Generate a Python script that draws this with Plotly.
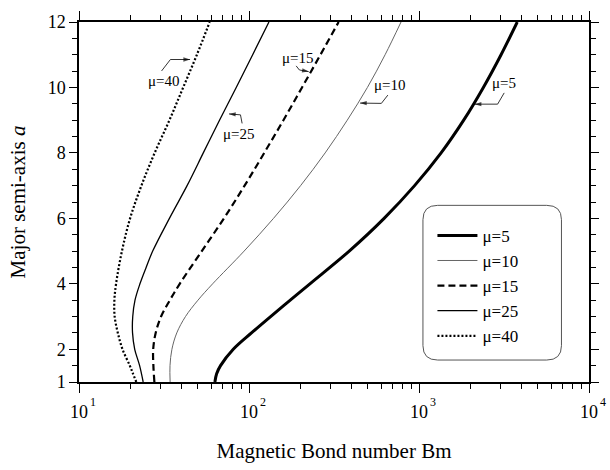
import math
import plotly.graph_objects as go

# ---- data ----
mu_names = ["μ=5", "μ=10", "μ=15", "μ=25", "μ=40"]

a_mu5 = [1, 1.25, 1.5, 2, 2.5, 3, 3.5, 4, 5, 6, 7, 8, 9, 10, 11, 12]
bm_mu5 = [63.0, 64.5, 68.0, 80.8, 103.4, 134.0, 174.9, 228.2, 388.6, 623.4, 941.9, 1349, 1832, 2391, 3039, 3784]

a_mu10 = [1, 1.5, 2, 2.5, 3, 3.5, 4, 5, 6, 7, 8, 9, 10, 11, 12]
bm_mu10 = [34.35, 34.3, 35.2, 37.6, 42.3, 50.1, 61.1, 93.6, 139.4, 201.1, 280.5, 378.4, 497.2, 631.8, 784]

a_mu15 = [1, 1.5, 2, 2.5, 3, 3.5, 4, 5, 6, 7, 8, 9, 10, 11, 12]
bm_mu15 = [27.76, 27.39, 27.32, 28.25, 30.39, 34.25, 39.13, 52.78, 71.21, 94.19, 122.9, 159.4, 205.1, 263.2, 336.7]

a_mu25 = [1, 1.5, 2, 2.5, 3, 3.5, 4, 4.5, 5, 6, 7, 8, 9, 10, 11, 12]
bm_mu25 = [23.85, 22.73, 21.27, 20.65, 20.71, 21.35, 22.83, 24.82, 27.14, 34.03, 43.23, 53.84, 67.07, 84.1, 105.1, 131.0]

a_mu40 = [1, 1.25, 1.5, 2, 2.5, 3, 3.5, 4, 5, 6, 7, 8, 9, 10, 11, 12]
bm_mu40 = [21.73, 20.79, 19.9, 18.03, 16.92, 16.21, 16.15, 16.52, 17.89, 19.98, 23.29, 27.87, 34.03, 41.01, 49.38, 58.72]

x_tickvals = [10, 100, 1000, 10000]
x_tick_base = ["10", "10", "10", "10"]
x_tick_exp = ["1", "2", "3", "4"]
y_tickvals = [1, 2, 4, 6, 8, 10, 12]

# in-plot labels (text centre) and their hooked pointer arrows (start, elbow, tip)
label_bm = [3170, 671, 194, 87.2, 31.8]
label_a = [10.13, 10.06, 10.90, 8.59, 10.21]
hook_bm = [[3171, 2900, 2127], [656, 600.6, 450], [189.4, 197.9, 224.4],
           [91.1, 89.1, 76.3], [30.6, 34.5, 45.0]]
hook_a = [[9.834, 9.49, 9.49], [9.767, 9.513, 9.522], [10.659, 10.534, 10.484],
          [8.901, 9.163, 9.192], [10.504, 10.854, 10.854]]

FONT = "Liberation Serif"

series = [
    (a_mu5, bm_mu5, dict(color="black", width=3)),
    (a_mu10, bm_mu10, dict(color="#666666", width=1)),
    (a_mu15, bm_mu15, dict(color="black", width=2.2, dash="7px,4px")),
    (a_mu25, bm_mu25, dict(color="black", width=1.3)),
    (a_mu40, bm_mu40, dict(color="black", width=2.2, dash="2px,2px")),
]

fig = go.Figure()
for name, (a_vals, bm_vals, line) in zip(mu_names, series):
    fig.add_trace(go.Scatter(x=bm_vals, y=a_vals, mode="lines", name=name,
                             line=dict(shape="spline", smoothing=1.0, **line)))

# pointer arrows
for hb, ha in zip(hook_bm, hook_a):
    fig.add_trace(go.Scatter(x=hb, y=ha, mode="lines+markers", showlegend=False,
                             hoverinfo="skip",
                             line=dict(color="black", width=0.8),
                             marker=dict(symbol="arrow", angleref="previous",
                                         size=[0, 0, 7], color="black",
                                         line=dict(width=0))))

annotations = []
for i, name in enumerate(mu_names):
    annotations.append(dict(x=math.log10(label_bm[i]), y=label_a[i], text=name,
                            showarrow=False, font=dict(family=FONT, size=15, color="#000000"),
                            xref="x", yref="y"))
# exponents of the x tick labels
for tv, ex in zip(x_tickvals, x_tick_exp):
    annotations.append(dict(x=math.log10(tv), y=0, xref="x", yref="paper", text=ex,
                            showarrow=False, xanchor="left", yanchor="middle",
                            xshift=9, yshift=-20,
                            font=dict(family=FONT, size=12, color="#000000")))

# rounded legend frame
x0, x1, y0, y1 = 0.6744, 0.946, 0.061, 0.4907
rx, ry = 0.0289, 0.0398
path = (f"M {x0+rx},{y1} L {x1-rx},{y1} Q {x1},{y1} {x1},{y1-ry} "
        f"L {x1},{y0+ry} Q {x1},{y0} {x1-rx},{y0} L {x0+rx},{y0} "
        f"Q {x0},{y0} {x0},{y0+ry} L {x0},{y1-ry} Q {x0},{y1} {x0+rx},{y1} Z")

minor_x = [m * 10 ** k for k in range(1, 4) for m in range(2, 10)]

fig.update_layout(
    width=610, height=470,
    margin=dict(l=79, r=12, t=11, b=82),
    paper_bgcolor="white", plot_bgcolor="white",
    font=dict(family=FONT, size=18, color="black"),
    showlegend=True,
    legend=dict(x=0.693, y=0.456, xanchor="left", yanchor="top",
                bgcolor="rgba(0,0,0,0)", borderwidth=0,
                font=dict(family=FONT, size=17, color="black"), itemwidth=40,
                tracegroupgap=0),
    shapes=[dict(type="path", path=path, xref="paper", yref="paper",
                 line=dict(color="#555555", width=1))],
    annotations=annotations,
    xaxis=dict(type="log", range=[1, 4], tickvals=x_tickvals, ticktext=x_tick_base,
               ticks="outside", ticklen=9, tickwidth=1.2, tickcolor="black",
               ticklabelstandoff=4,
               showline=True, linecolor="black", linewidth=1.5, mirror="allticks",
               showgrid=False, zeroline=False,
               minor=dict(tickvals=minor_x, ticks="outside", ticklen=5, tickwidth=1,
                          tickcolor="black", showgrid=False),
               tickfont=dict(family=FONT, size=18),
               title=dict(text="Magnetic Bond number Bm", font=dict(family=FONT, size=21),
                          standoff=22)),
    yaxis=dict(range=[1, 12], tickvals=y_tickvals,
               ticks="outside", ticklen=8, tickwidth=1.2, tickcolor="black",
               showline=True, linecolor="black", linewidth=1.5, mirror="allticks",
               showgrid=False, zeroline=False,
               minor=dict(dtick=0.5, tick0=1, ticks="outside", ticklen=5, tickwidth=1,
                          tickcolor="black", showgrid=False),
               tickfont=dict(family=FONT, size=18),
               title=dict(text="Major semi-axis <i>a</i>", font=dict(family=FONT, size=21),
                          standoff=16)),
)

fig.write_html("out.html")
